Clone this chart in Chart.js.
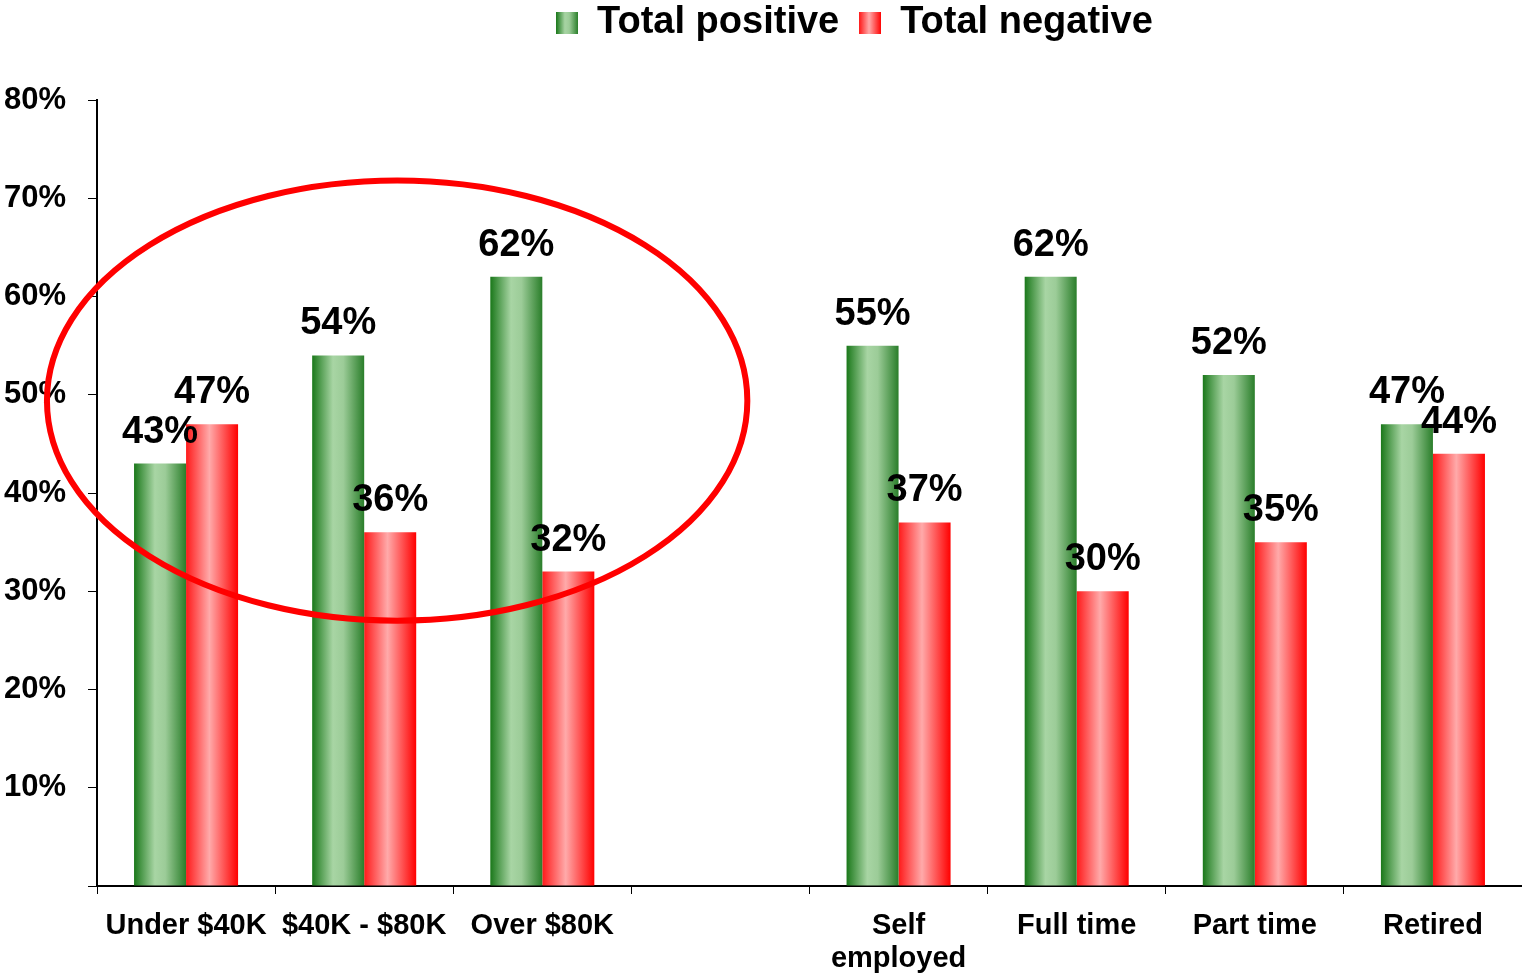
<!DOCTYPE html>
<html>
<head>
<meta charset="utf-8">
<script src="https://cdn.jsdelivr.net/npm/chart.js@4.4.1/dist/chart.umd.min.js"></script>
<style>
  html, body { margin: 0; padding: 0; background: #fff; }
  #wrap { width: 1522px; height: 976px; }
</style>
</head>
<body>
<div id="wrap"><canvas id="chart"></canvas></div>
<script>
// chart data
const categories = ['Under $40K', '$40K - $80K', 'Over $80K', '', ['Self', 'employed'], 'Full time', 'Part time', 'Retired']
const totalPositive = [43, 54, 62, null, 55, 62, 52, 47]
const totalNegative = [47, 36, 32, null, 37, 30, 35, 44]
const seriesNames = ['Total positive', 'Total negative']
const yTicks = [10, 20, 30, 40, 50, 60, 70, 80]

// highlight ellipse, in category index / percent units
const ellipseCenter = [1.185, 49.4]
const ellipseRadius = [1.966, 22.4]

const FONT = 'Liberation Sans, Arial, sans-serif'
const CAT_PCT = 0.584

const greenStops = [[0, '#1a781a'], [0.4, '#a8d5a4'], [0.6, '#9ccc98'], [1, '#2a7e2a']]
const redStops = [[0, '#ff1a1a'], [0.45, '#ffaaaa'], [1, '#ff0000']]

function makeGrad(ctx, x0, x1, stops) {
    const g = ctx.createLinearGradient(x0, 0, x1, 0)
    stops.forEach(s => g.addColorStop(s[0], s[1]))
    return g
}

function barGradient(stops, side) {
    return function (context) {
        const chart = context.chart
        const xs = chart.scales.x
        if (!xs || context.dataIndex === undefined) return stops[1][1]
        const center = xs.getPixelForValue(context.dataIndex)
        const w = xs.width / categories.length * CAT_PCT / 2
        const x0 = side < 0 ? center - w : center
        return makeGrad(chart.ctx, x0, x0 + w, stops)
    }
}

function legendIcon(stops) {
    const c = document.createElement('canvas')
    c.width = 22
    c.height = 22
    const cx = c.getContext('2d')
    cx.fillStyle = makeGrad(cx, 0, 22, stops)
    cx.fillRect(0, 0, 22, 22)
    return c
}
const legendIcons = [legendIcon(greenStops), legendIcon(redStops)]

// push the plot down and move the legend a bit to the right / up
const legendPlace = {
    id: 'legendPlace',
    beforeInit(chart) {
        const fit = chart.legend.fit
        chart.legend.fit = function () {
            fit.call(this)
            this.height += 32
        }
    },
    afterLayout(chart) {
        chart.legend.left += 92
        chart.legend.right += 92
        chart.legend.top -= 16
    }
}

const ellipsePlugin = {
    id: 'ellipse',
    afterDatasetsDraw(chart) {
        const xs = chart.scales.x, ys = chart.scales.y
        const ctx = chart.ctx
        const cx = xs.getPixelForValue(ellipseCenter[0])
        const cy = ys.getPixelForValue(ellipseCenter[1])
        const rx = xs.getPixelForValue(ellipseCenter[0] + ellipseRadius[0]) - cx
        const ry = cy - ys.getPixelForValue(ellipseCenter[1] + ellipseRadius[1])
        ctx.save()
        ctx.strokeStyle = '#ff0000'
        ctx.lineWidth = 6
        ctx.beginPath()
        ctx.ellipse(cx, cy, rx, ry, 0, 0, Math.PI * 2)
        ctx.stroke()
        ctx.restore()
    }
}

const valueLabels = {
    id: 'valueLabels',
    afterDraw(chart) {
        const ctx = chart.ctx
        ctx.save()
        ctx.font = 'bold 38px ' + FONT
        ctx.fillStyle = '#000'
        ctx.textAlign = 'center'
        ctx.textBaseline = 'alphabetic'
        chart.data.datasets.forEach((ds, i) => {
            chart.getDatasetMeta(i).data.forEach((el, j) => {
                if (ds.data[j] == null) return
                ctx.fillText(ds.data[j] + '%', el.x, el.y - 21)
            })
        })
        ctx.restore()
    }
}

new Chart(document.getElementById('chart').getContext('2d'), {
    type: 'bar',
    data: {
        labels: categories,
        datasets: [{
            label: seriesNames[0],
            data: totalPositive,
            backgroundColor: barGradient(greenStops, -1),
            categoryPercentage: CAT_PCT,
            barPercentage: 1
        }, {
            label: seriesNames[1],
            data: totalNegative,
            backgroundColor: barGradient(redStops, 1),
            categoryPercentage: CAT_PCT,
            barPercentage: 1
        }]
    },
    options: {
        responsive: true,
        maintainAspectRatio: false,
        animation: false,
        layout: { padding: { left: 0, right: -3, top: 0, bottom: 0 } },
        plugins: {
            legend: {
                position: 'top',
                labels: {
                    color: '#000',
                    font: { family: FONT, size: 38, weight: 'bold' },
                    usePointStyle: true,
                    boxWidth: 22,
                    boxHeight: 22,
                    padding: 20,
                    generateLabels(chart) {
                        return chart.data.datasets.map((ds, i) => ({
                            text: ds.label,
                            pointStyle: legendIcons[i],
                            fillStyle: '#000',
                            strokeStyle: 'transparent',
                            lineWidth: 0,
                            hidden: false,
                            datasetIndex: i
                        }))
                    }
                }
            },
            tooltip: { enabled: false }
        },
        scales: {
            x: {
                afterFit(axis) { axis.height = 90 },
                grid: { drawOnChartArea: false, color: '#000', tickLength: 8, offset: true },
                border: { color: '#000', width: 2 },
                ticks: {
                    color: '#000',
                    font: { family: FONT, size: 29, weight: 'bold', lineHeight: 1.12 },
                    padding: 16,
                    maxRotation: 0,
                    autoSkip: false
                }
            },
            y: {
                min: 0,
                max: 80,
                afterFit(axis) { axis.width = 97 },
                afterBuildTicks(axis) {
                    axis.ticks = [{ value: 0 }].concat(yTicks.map(v => ({ value: v })))
                },
                grid: { drawOnChartArea: false, color: '#000', tickLength: 9 },
                border: { color: '#000', width: 2 },
                ticks: {
                    color: '#000',
                    font: { family: FONT, size: 31, weight: 'bold' },
                    padding: 22,
                    callback: v => v === 0 ? '' : v + '%'
                }
            }
        }
    },
    plugins: [legendPlace, ellipsePlugin, valueLabels]
})
</script>
</body>
</html>
